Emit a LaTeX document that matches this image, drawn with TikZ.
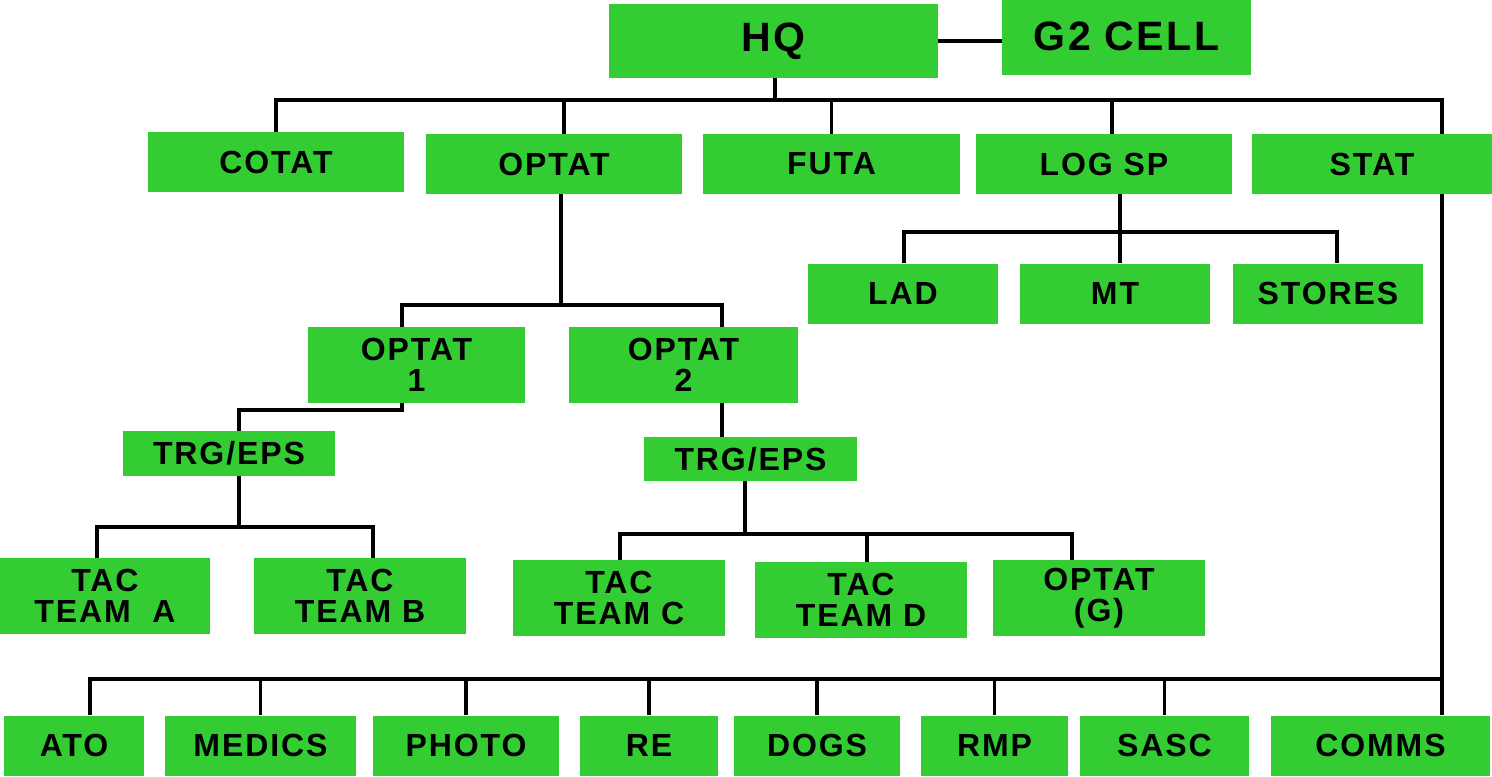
\documentclass[tikz,border=0pt]{standalone}
\usepackage{fontspec}
\setmainfont{Liberation Sans}[LetterSpace=6]
\usetikzlibrary{positioning}
\definecolor{orggreen}{RGB}{51,204,51}
\tikzset{
    unit/.style={rectangle, fill=orggreen, inner sep=0pt, align=center, font=\fontsize{16}{15.5}\selectfont\bfseries},
    headunit/.style={unit, font=\fontsize{20.5}{22}\selectfont\bfseries},
    rowunit/.style={unit, minimum height=30pt},
    teamunit/.style={unit, minimum width=106pt, minimum height=38pt},
    link/.style={line width=1.6pt, color=black}
}
\begin{document}
\begin{tikzpicture}[x=0.5pt, y=-0.5pt]
    \useasboundingbox (0,0) rectangle (1492,776);
    % HQ and G2
    \node[headunit, minimum width=164.5pt, minimum height=37pt] (hq) at (773.5,41) {HQ};
    \node[headunit, minimum width=124.5pt, minimum height=38.5pt] (g2) at (1126.5,36) {G2 CELL};
    % first row
    \node[rowunit, minimum width=128pt] (cotat) at (276,162) {COTAT};
    \node[rowunit, minimum width=128pt] (optat) at (554,164) {OPTAT};
    \node[rowunit, minimum width=128.5pt] (futa) at (831.5,164) {FUTA};
    \node[rowunit, minimum width=128pt] (logsp) at (1104,164) {LOG SP};
    \node[rowunit, minimum width=120pt] (stat) at (1372,164) {STAT};
    % log sp branch
    \node[rowunit, minimum width=95pt] (lad) at (903,293.5) {LAD};
    \node[rowunit, minimum width=95pt] (mt) at (1115,293.5) {MT};
    \node[rowunit, minimum width=95pt] (stores) at (1328,293.5) {STORES};
    % optat branch
    \node[unit, minimum width=108.5pt, minimum height=38pt] (optat1) at (416.5,365) {OPTAT\\1};
    \node[unit, minimum width=114.5pt, minimum height=38pt] (optat2) at (683.5,365) {OPTAT\\2};
    \node[unit, minimum width=106pt, minimum height=22.5pt] (trg1) at (229,453.5) {TRG/EPS};
    \node[unit, minimum width=106.5pt, minimum height=22pt] (trg2) at (750.5,459) {TRG/EPS};
    \node[teamunit, minimum width=105pt] (taca) at (105,596) {TAC\\TEAM\ \ A};
    \node[teamunit] (tacb) at (360,596) {TAC\\TEAM B};
    \node[teamunit] (tacc) at (619,598) {TAC\\TEAM C};
    \node[teamunit] (tacd) at (861,600) {TAC\\TEAM D};
    \node[teamunit] (optatg) at (1099,598) {OPTAT\\(G)};
    % bottom row
    \node[rowunit, minimum width=70pt] (ato) at (74,745.5) {ATO};
    \node[rowunit, minimum width=95.5pt] (medics) at (260.5,745.5) {MEDICS};
    \node[rowunit, minimum width=93pt] (photo) at (466,745.5) {PHOTO};
    \node[rowunit, minimum width=69pt] (re) at (649,745.5) {RE};
    \node[rowunit, minimum width=83pt] (dogs) at (817,745.5) {DOGS};
    \node[rowunit, minimum width=73.5pt] (rmp) at (994.5,745.5) {RMP};
    \node[rowunit, minimum width=84.5pt] (sasc) at (1164.5,745.5) {SASC};
    \node[rowunit, minimum width=109.5pt] (comms) at (1380.5,745.5) {COMMS};

    % junctions
    \coordinate (hbL) at (276,100);
    \coordinate (hbM) at (775,100);
    \coordinate (hbR) at (1442,100);
    \coordinate (lbL) at (904,232);
    \coordinate (lbM) at (1120,232);
    \coordinate (lbR) at (1337,232);
    \coordinate (obL) at (402,305);
    \coordinate (obM) at (561,305);
    \coordinate (obR) at (722,305);
    \coordinate (t1a) at (402,410);
    \coordinate (t1b) at (239,410);
    \coordinate (abL) at (97,527);
    \coordinate (abM) at (239,527);
    \coordinate (abR) at (373,527);
    \coordinate (cbL) at (620,534);
    \coordinate (cbM) at (745,534);
    \coordinate (cbD) at (867,534);
    \coordinate (cbR) at (1072,534);
    \coordinate (bbL) at (90,679);
    \coordinate (bbR) at (1442,679);

    % HQ links
    \draw[link] (hq.east) -- (hq.east -| g2.west);
    \draw[link] (hq.south -| hbM) -- (hbM);
    \draw[link] (cotat.north -| hbL) -- (hbL) -- (hbR) -- (stat.north -| hbR);
    \draw[link] ([xshift=5pt]optat.north) -- ([xshift=5pt]optat.north |- hbL);
    \draw[link] (futa.north) -- (futa.north |- hbL);
    \draw[link] ([xshift=4pt]logsp.north) -- ([xshift=4pt]logsp.north |- hbL);
    % LOG SP links
    \draw[link] (logsp.south -| lbM) -- (lbM);
    \draw[link] (lad.north -| lbL) -- (lbL) -- (lbR) -- (stores.north -| lbR);
    \draw[link] (mt.north -| lbM) -- (lbM);
    % OPTAT links
    \draw[link] (optat.south -| obM) -- (obM);
    \draw[link] (optat1.north -| obL) -- (obL) -- (obR) -- (optat2.north -| obR);
    \draw[link] (optat1.south -| t1a) -- (t1a) -- (t1b) -- (trg1.north -| t1b);
    \draw[link] (optat2.south -| obR) -- (trg2.north -| obR);
    \draw[link] (trg1.south -| abM) -- (abM);
    \draw[link] (taca.north -| abL) -- (abL) -- (abR) -- (tacb.north -| abR);
    \draw[link] (trg2.south -| cbM) -- (cbM);
    \draw[link] (tacc.north -| cbL) -- (cbL) -- (cbR) -- (optatg.north -| cbR);
    \draw[link] (tacd.north -| cbD) -- (cbD);
    % STAT links
    \draw[link] (stat.south -| bbR) -- (comms.north -| bbR);
    \draw[link] (ato.north -| bbL) -- (bbL) -- (bbR);
    \foreach \n in {medics,photo,re,dogs,rmp,sasc}
        \draw[link] (\n.north) -- (\n.north |- bbL);
\end{tikzpicture}
\end{document}
